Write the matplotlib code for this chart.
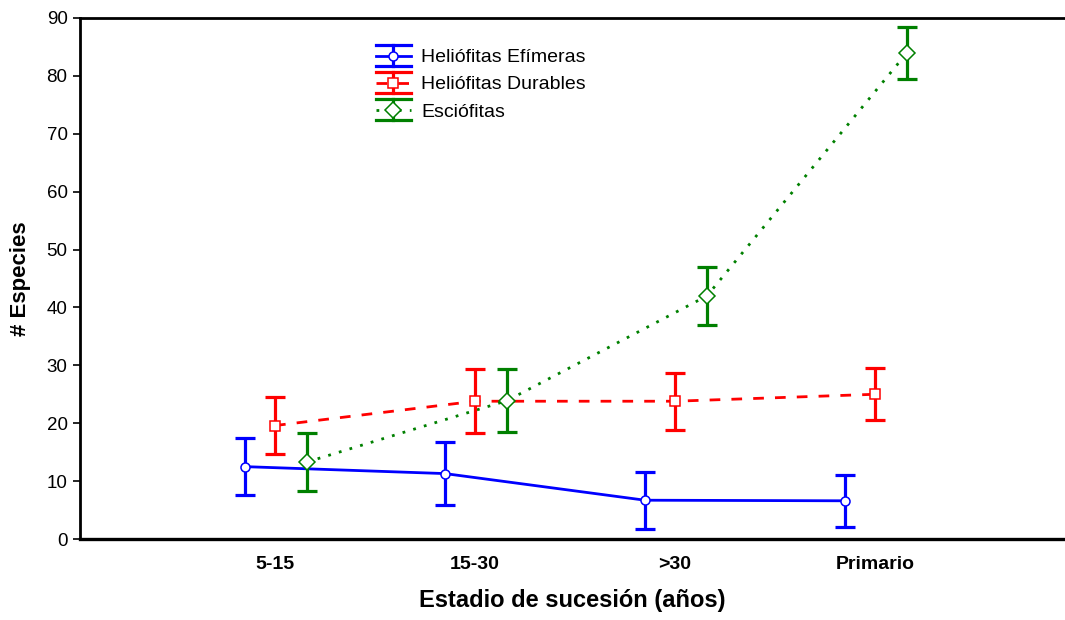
import matplotlib
matplotlib.use("Agg")
import matplotlib.pyplot as plt
from matplotlib.lines import Line2D
from matplotlib.legend_handler import HandlerBase
import numpy as np

# ---------------- data ----------------
categories = ["5-15", "15-30", ">30", "Primario"]
efimeras_mean = [12.5, 11.3, 6.7, 6.6]
efimeras_err = [4.9, 5.4, 4.9, 4.5]
durables_mean = [19.6, 23.8, 23.8, 25.0]
durables_err = [4.9, 5.5, 4.9, 4.5]
esciofitas_mean = [13.3, 23.9, 42.0, 84.0]
esciofitas_err = [5.0, 5.5, 5.0, 4.5]
series_labels = ["Heliófitas Efímeras", "Heliófitas Durables", "Esciófitas"]

# ---------------- styles ----------------
plt.rcParams["font.family"] = ["Liberation Sans", "DejaVu Sans"]
LW = 2.0
ELW = 2.3
CAP = 7.2
styles = [
    dict(color="#0000ff", ls="-", lw=LW, marker="o", ms=6.5, dodge=-0.15),
    dict(color="#ff0000", ls=(0, (7.7 / LW, 8.0 / LW)), lw=LW, marker="s", ms=6.5, dodge=0.0),
    dict(color="#008000", ls=(0, (1.0, 3.0)), lw=2.0, marker="D", ms=8.2, dodge=0.16),
]

fig = plt.figure(figsize=(10.65, 6.2), dpi=100)
ax = fig.add_axes([80 / 1065, 1 - 539 / 620, 1 - 80 / 1065, (539 - 18) / 620])

xbase = np.arange(len(categories))
means = [efimeras_mean, durables_mean, esciofitas_mean]
errs = [efimeras_err, durables_err, esciofitas_err]

proxies = []
for m, e, st, lab in zip(means, errs, styles, series_labels):
    x = xbase + st["dodge"]
    ax.plot(x, m, color=st["color"], linestyle=st["ls"], lw=st["lw"], zorder=2)
    ax.errorbar(x, m, yerr=e, fmt="none", ecolor=st["color"], elinewidth=ELW,
                capsize=CAP, capthick=ELW, zorder=3)
    ax.plot(x, m, linestyle="none", marker=st["marker"], ms=st["ms"],
            mfc="white", mec=st["color"], mew=1.1, zorder=4)
    p = Line2D([], [], color=st["color"])
    p._ebstyle = st
    proxies.append(p)


class EBHandler(HandlerBase):
    def create_artists(self, legend, orig_handle, xdescent, ydescent, width,
                       height, fontsize, trans):
        st = orig_handle._ebstyle
        c = st["color"]
        x0 = -xdescent
        x1 = x0 + width
        xm = 0.5 * (x0 + x1)
        yc = 0.5 * height - ydescent
        half = 7.6
        arts = [
            Line2D([x0, x1], [yc, yc], color=c, linestyle=st["ls"], lw=st["lw"]),
            Line2D([xm, xm], [yc - half, yc + half], color=c, lw=ELW),
            Line2D([x0, x1], [yc + half, yc + half], color=c, lw=ELW),
            Line2D([x0, x1], [yc - half, yc - half], color=c, lw=ELW),
            Line2D([xm], [yc], linestyle="none", marker=st["marker"], ms=st["ms"],
                   mfc="white", mec=c, mew=1.1),
        ]
        for a in arts:
            a.set_transform(trans)
        return arts


leg = ax.legend(proxies, series_labels, handler_map={Line2D: EBHandler()},
                loc="upper left", bbox_to_anchor=(366 / 1065, 1 - 39 / 620),
                bbox_transform=fig.transFigure, frameon=False, fontsize=14,
                borderpad=0, handlelength=1.8, handletextpad=0.55,
                labelspacing=0.49)

# ---------------- axes ----------------
ax.set_xlim(-0.975, 3.95)
ax.set_ylim(0, 90)
ax.set_yticks(np.arange(0, 91, 10))
ax.set_xticks(xbase)
ax.set_xticklabels(categories, fontsize=14, fontweight="bold")
ax.tick_params(axis="x", length=0, pad=12)
ax.tick_params(axis="y", direction="out", length=5, width=1.2, pad=4, labelsize=13.5)

ax.spines["right"].set_visible(False)
ax.spines["left"].set_linewidth(2.0)
ax.spines["bottom"].set_linewidth(2.4)
ax.spines["top"].set_linewidth(2.0)

ax.set_xlabel("Estadio de sucesión (años)", fontsize=17, fontweight="bold", labelpad=12)
ax.set_ylabel("# Especies", fontsize=16, fontweight="bold", labelpad=11)

fig.savefig("out.png", dpi=100)
